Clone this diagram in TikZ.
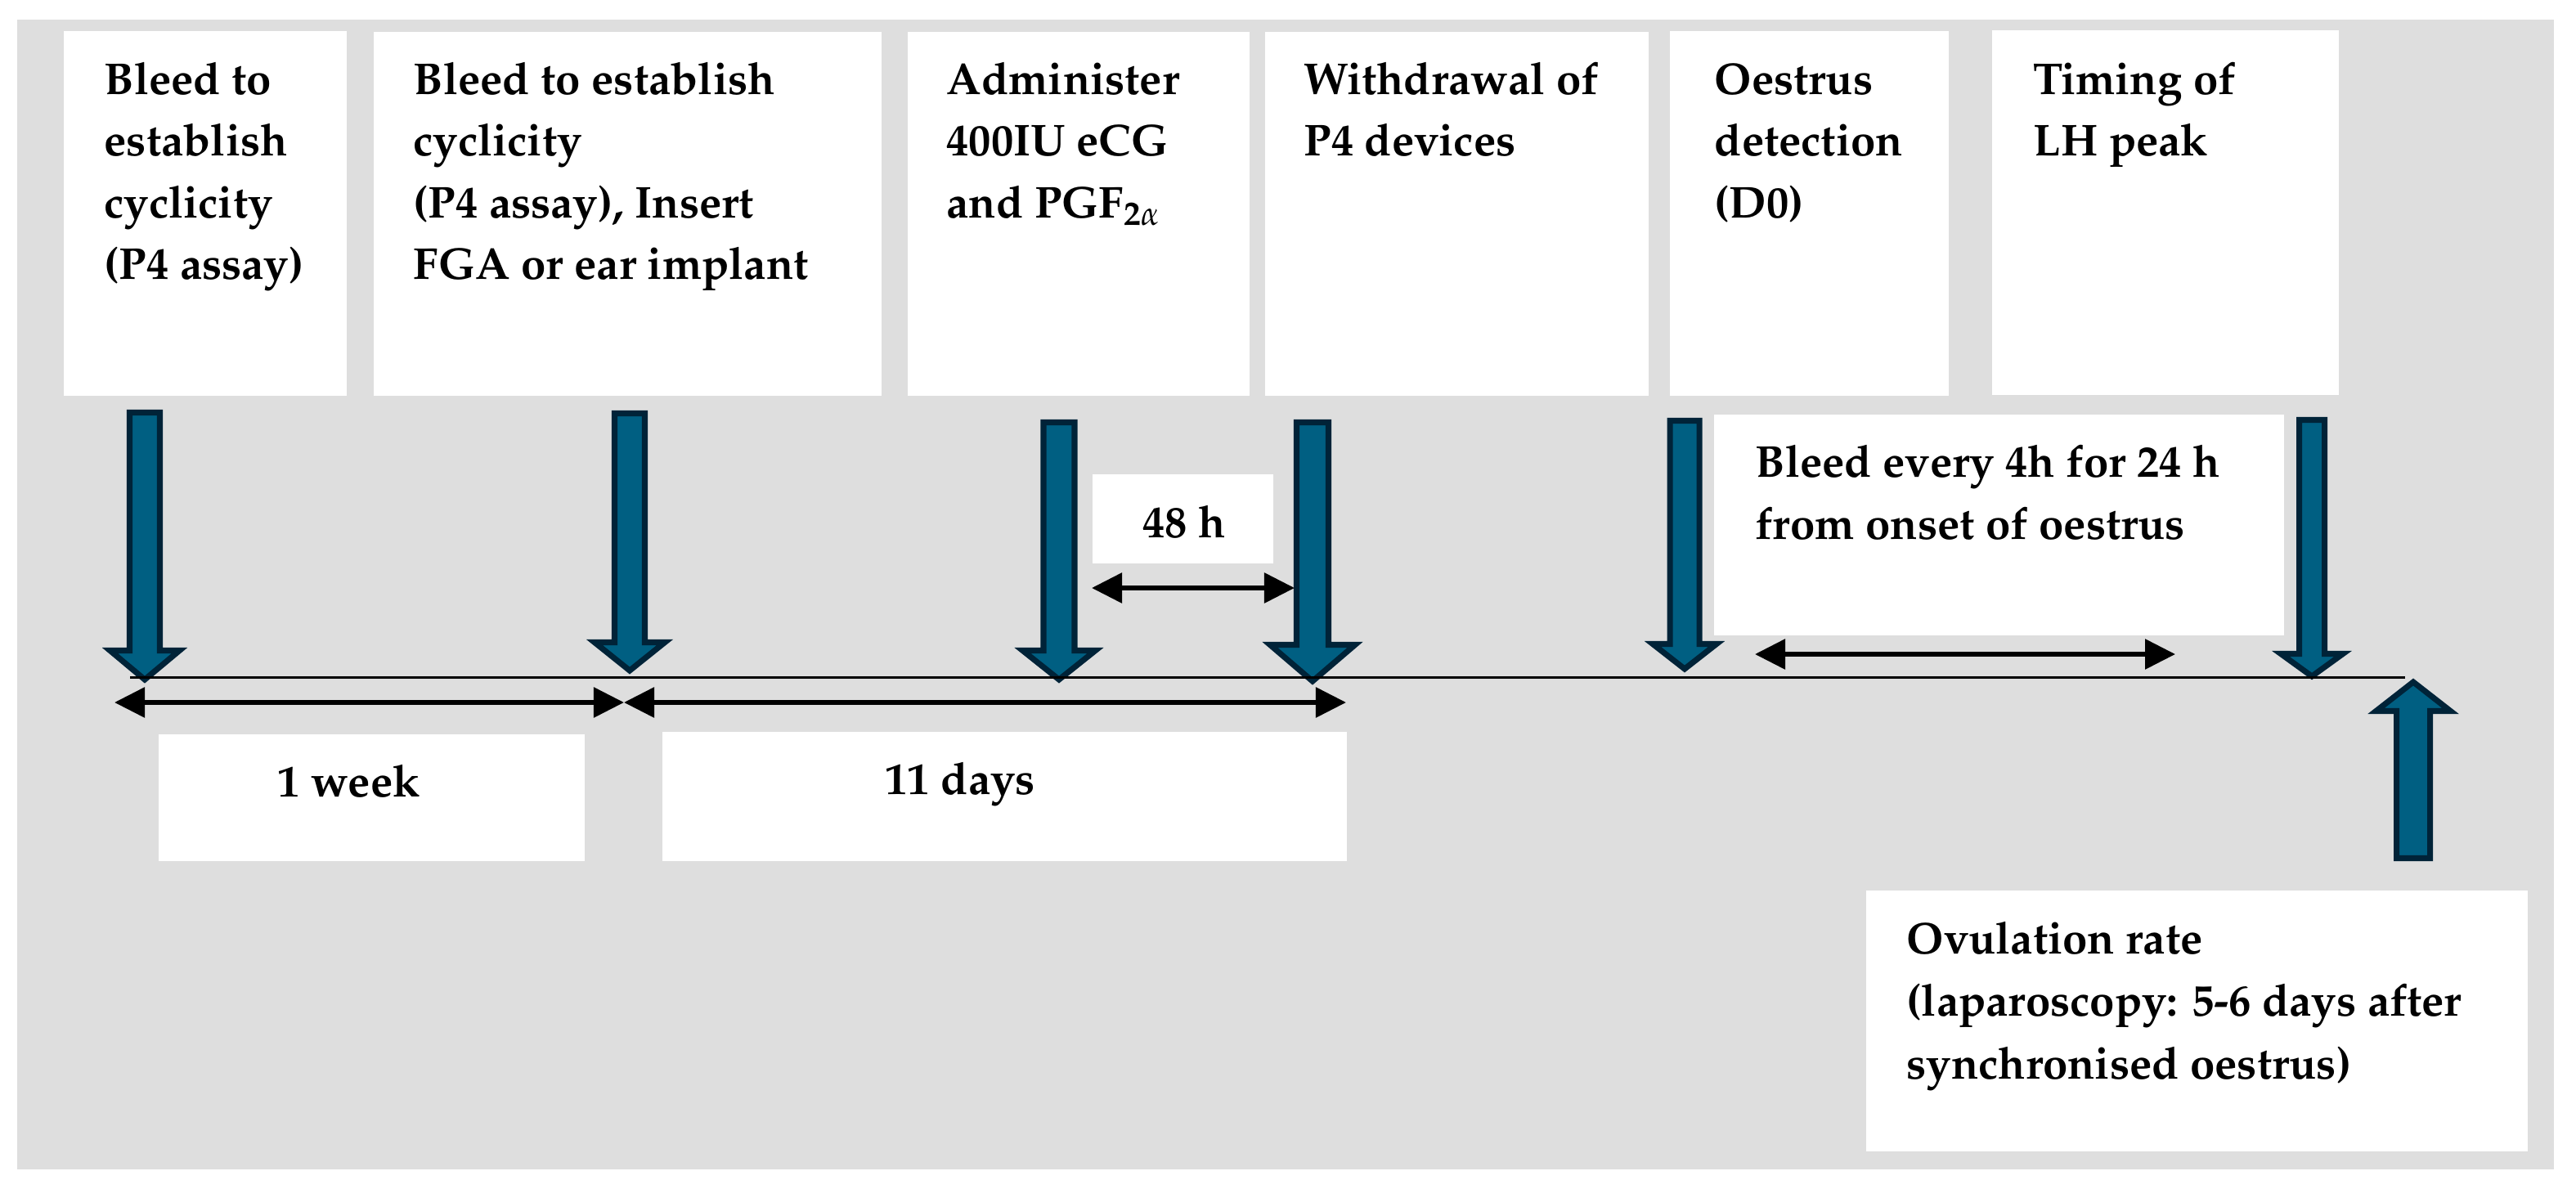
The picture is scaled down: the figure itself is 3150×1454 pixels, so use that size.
\documentclass[tikz,border=0pt]{standalone}
\usepackage[T1]{fontenc}
\usepackage{mathpazo}
\usetikzlibrary{arrows.meta}
\definecolor{bgray}{RGB}{222,222,222}
\definecolor{afill}{RGB}{0,95,130}
\definecolor{aline}{RGB}{0,35,56}
\tikzset{
  wbox/.style={fill=white, draw=none, inner sep=0pt, anchor=north west},
  lbl/.style={inner sep=0pt, anchor=base west, font=\fontsize{15.5}{21.5}\selectfont\bfseries},
  lblw/.style={inner sep=0pt, anchor=base west, font=\fontsize{15.5}{21.85}\selectfont\bfseries},
  slbl/.style={inner sep=0pt, font=\fontsize{15.5}{21.5}\selectfont\bfseries},
  blk/.style={fill=afill, draw=aline, line width=2pt, line join=miter},
  span/.style={line width=1.7pt, {Triangle[length=0.37cm,width=0.36cm]}-{Triangle[length=0.37cm,width=0.36cm]}},
  tline/.style={line width=0.85pt}
}
\newcommand{\mlines}[1]{\begin{tabular}[t]{@{}l@{}}#1\end{tabular}}
% x, far end, head base, tip, half shaft, half head
\newcommand{\blkarr}[6]{%
  \draw[blk] (#1-#5,#2) -- (#1+#5,#2) -- (#1+#5,#3) -- (#1+#6,#3) -- (#1,#4) -- (#1-#6,#3) -- (#1-#5,#3) -- cycle;}
\begin{document}
\begin{tikzpicture}[x=0.01cm,y=-0.01cm]
\useasboundingbox (0,0) rectangle (3150,1454);
\fill[bgray] (21,24) rectangle (3123,1430);

% top boxes
\node[wbox, minimum width=3.46cm, minimum height=4.46cm] (b1) at (77,37) {};
\node[wbox, minimum width=6.21cm, minimum height=4.45cm] (b2) at (456,38) {};
\node[wbox, minimum width=4.18cm, minimum height=4.45cm] (b3) at (1109,38) {};
\node[wbox, minimum width=4.69cm, minimum height=4.45cm] (b4) at (1546,38) {};
\node[wbox, minimum width=3.41cm, minimum height=4.46cm] (b5) at (2041,37) {};
\node[wbox, minimum width=4.24cm, minimum height=4.46cm] (b6) at (2435,36) {};

\node[lbl] (t1) at (127,115) {\mlines{Bleed to\\establish\\cyclicity\\(P4 assay)}};
\node[lbl] (t2) at (505,115) {\mlines{Bleed to establish\\cyclicity\\(P4 assay), Insert\\FGA or ear implant}};
\node[lbl] (t3) at (1157,115) {\mlines{Administer\\400IU eCG\\and PGF\textsubscript{2$\alpha$}}};
\node[lbl] (t4) at (1594,115) {\mlines{Withdrawal of\\P4 devices}};
\node[lbl] (t5) at (2096,115) {\mlines{Oestrus\\detection\\(D0)}};
\node[lbl] (t6) at (2486,115) {\mlines{Timing of\\LH peak}};

% other boxes
\node[wbox, minimum width=5.21cm, minimum height=1.55cm] (bw) at (193,897) {};
\node[wbox, minimum width=8.37cm, minimum height=1.58cm] (bd) at (809,894) {};
\node[wbox, minimum width=2.21cm, minimum height=1.09cm] (bh) at (1335,579) {};
\node[wbox, minimum width=6.97cm, minimum height=2.70cm] (bb) at (2095,506) {};
\node[wbox, minimum width=8.09cm, minimum height=3.19cm] (bo) at (2281,1088) {};

\node[slbl, anchor=base west] (tw) at (339,974) {1 week};
\node[slbl, anchor=base west] (td) at (1082,971) {11 days};
\node[slbl, anchor=base] (th) at (1448,657) {48 h};
\node[lblw] (tb) at (2146,583) {\mlines{Bleed every 4h for 24 h\\from onset of oestrus}};
\node[lblw] (to) at (2331,1166) {\mlines{Ovulation rate\\(laparoscopy: 5-6 days after\\synchronised oestrus)}};

% block arrows
\blkarr{177}{504.5}{795.5}{831}{18.5}{42.5}
\blkarr{770}{505.5}{785.5}{820}{18.5}{43}
\blkarr{1295}{516.5}{795.5}{831}{19}{44.5}
\blkarr{1605}{516.5}{788.5}{833}{19.5}{52}
\blkarr{2060}{514.5}{787.5}{818}{18}{39}
\blkarr{2827}{513.5}{799.5}{827}{15.5}{38}
\blkarr{2951}{1049.5}{869.5}{834}{20.5}{45.5}

% timeline
\coordinate (tl0) at (159,828);
\coordinate (tl1) at (2941,828);
\draw[tline] (tl0) -- (tl1);

% spans
\coordinate (w0) at (140,859);
\coordinate (w1) at (763,859);
\coordinate (d1) at (1646,859);
\coordinate (h0) at (1335,719);
\coordinate (h1) at (1583,719);
\coordinate (e0) at (2146,800);
\coordinate (e1) at (2660,800);
\draw[span] (w0) -- (w1);
\draw[span] (w1) -- (d1);
\draw[span] (h0) -- (h1);
\draw[span] (e0) -- (e1);
\end{tikzpicture}
\end{document}
